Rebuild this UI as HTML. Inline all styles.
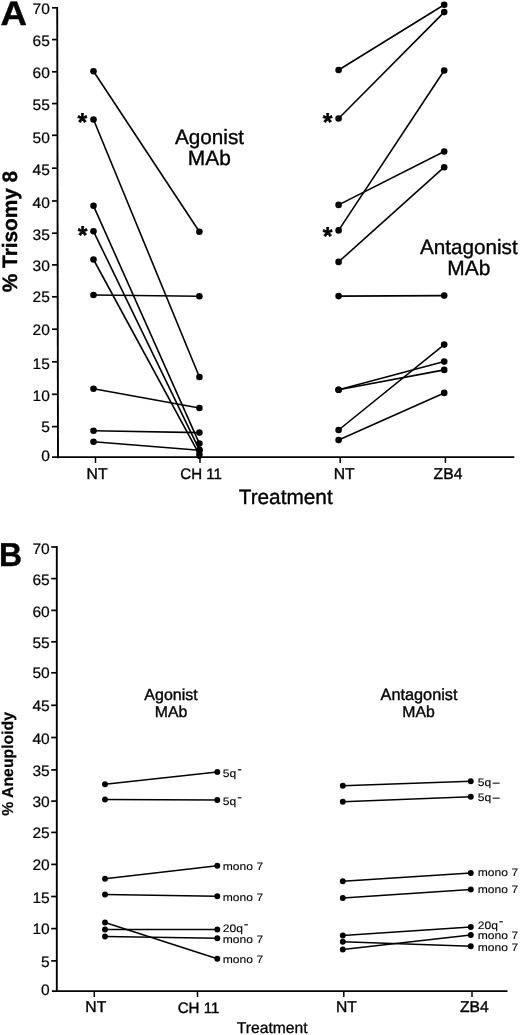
<!DOCTYPE html>
<html lang="en"><head><meta charset="utf-8"><title>Figure</title>
<style>html,body{margin:0;padding:0;background:#fff}svg{display:block}text{font-family:"Liberation Sans", Arial, Helvetica, sans-serif;fill:#000;text-rendering:geometricPrecision;stroke:#000;stroke-width:0.38px}</style>
</head><body>
<svg style="will-change:transform" width="520" height="1035" viewBox="0 0 520 1035">
<rect width="520" height="1035" fill="#fff"/>
<g opacity="0.999">
<line x1="57.20" y1="6.95" x2="58.00" y2="458.15" stroke="#000" stroke-width="1.90" stroke-linecap="butt"/>
<line x1="52.00" y1="457.20" x2="514.30" y2="457.20" stroke="#000" stroke-width="1.70" stroke-linecap="butt"/>
<line x1="52.00" y1="7.80" x2="57.60" y2="7.80" stroke="#000" stroke-width="1.70" stroke-linecap="butt"/>
<text transform="translate(49.90,14.00) scale(1.030,1.000)" font-size="15.10" text-anchor="end" font-weight="normal" style="stroke-width:0.22px">70</text>
<line x1="52.00" y1="39.60" x2="57.60" y2="39.60" stroke="#000" stroke-width="1.70" stroke-linecap="butt"/>
<text transform="translate(49.90,45.50) scale(1.030,1.000)" font-size="15.10" text-anchor="end" font-weight="normal" style="stroke-width:0.22px">65</text>
<line x1="52.00" y1="71.80" x2="57.60" y2="71.80" stroke="#000" stroke-width="1.70" stroke-linecap="butt"/>
<text transform="translate(49.90,78.00) scale(1.030,1.000)" font-size="15.10" text-anchor="end" font-weight="normal" style="stroke-width:0.22px">60</text>
<line x1="52.00" y1="103.60" x2="57.60" y2="103.60" stroke="#000" stroke-width="1.70" stroke-linecap="butt"/>
<text transform="translate(49.90,109.70) scale(1.030,1.000)" font-size="15.10" text-anchor="end" font-weight="normal" style="stroke-width:0.22px">55</text>
<line x1="52.00" y1="135.30" x2="57.60" y2="135.30" stroke="#000" stroke-width="1.70" stroke-linecap="butt"/>
<text transform="translate(49.90,142.90) scale(1.030,1.000)" font-size="15.10" text-anchor="end" font-weight="normal" style="stroke-width:0.22px">50</text>
<line x1="52.00" y1="168.20" x2="57.60" y2="168.20" stroke="#000" stroke-width="1.70" stroke-linecap="butt"/>
<text transform="translate(49.90,174.90) scale(1.030,1.000)" font-size="15.10" text-anchor="end" font-weight="normal" style="stroke-width:0.22px">45</text>
<line x1="52.00" y1="201.00" x2="57.60" y2="201.00" stroke="#000" stroke-width="1.70" stroke-linecap="butt"/>
<text transform="translate(49.90,208.00) scale(1.030,1.000)" font-size="15.10" text-anchor="end" font-weight="normal" style="stroke-width:0.22px">40</text>
<line x1="52.00" y1="233.20" x2="57.60" y2="233.20" stroke="#000" stroke-width="1.70" stroke-linecap="butt"/>
<text transform="translate(49.90,239.60) scale(1.030,1.000)" font-size="15.10" text-anchor="end" font-weight="normal" style="stroke-width:0.22px">35</text>
<line x1="52.00" y1="264.90" x2="57.60" y2="264.90" stroke="#000" stroke-width="1.70" stroke-linecap="butt"/>
<text transform="translate(49.90,271.10) scale(1.030,1.000)" font-size="15.10" text-anchor="end" font-weight="normal" style="stroke-width:0.22px">30</text>
<line x1="52.00" y1="296.80" x2="57.60" y2="296.80" stroke="#000" stroke-width="1.70" stroke-linecap="butt"/>
<text transform="translate(49.90,302.40) scale(1.030,1.000)" font-size="15.10" text-anchor="end" font-weight="normal" style="stroke-width:0.22px">25</text>
<line x1="52.00" y1="329.20" x2="57.60" y2="329.20" stroke="#000" stroke-width="1.70" stroke-linecap="butt"/>
<text transform="translate(49.90,335.40) scale(1.030,1.000)" font-size="15.10" text-anchor="end" font-weight="normal" style="stroke-width:0.22px">20</text>
<line x1="52.00" y1="361.80" x2="57.60" y2="361.80" stroke="#000" stroke-width="1.70" stroke-linecap="butt"/>
<text transform="translate(49.90,369.10) scale(1.030,1.000)" font-size="15.10" text-anchor="end" font-weight="normal" style="stroke-width:0.22px">15</text>
<line x1="52.00" y1="394.30" x2="57.60" y2="394.30" stroke="#000" stroke-width="1.70" stroke-linecap="butt"/>
<text transform="translate(49.90,400.50) scale(1.030,1.000)" font-size="15.10" text-anchor="end" font-weight="normal" style="stroke-width:0.22px">10</text>
<line x1="52.00" y1="426.60" x2="57.60" y2="426.60" stroke="#000" stroke-width="1.70" stroke-linecap="butt"/>
<text transform="translate(49.90,432.30) scale(1.030,1.000)" font-size="15.10" text-anchor="end" font-weight="normal" style="stroke-width:0.22px">5</text>
<text transform="translate(49.90,461.40) scale(1.030,1.000)" font-size="15.10" text-anchor="end" font-weight="normal" style="stroke-width:0.22px">0</text>
<line x1="95.50" y1="457.20" x2="95.50" y2="462.90" stroke="#000" stroke-width="1.50" stroke-linecap="butt"/>
<line x1="200.00" y1="457.20" x2="200.00" y2="462.90" stroke="#000" stroke-width="1.50" stroke-linecap="butt"/>
<line x1="340.20" y1="457.20" x2="340.20" y2="462.90" stroke="#000" stroke-width="1.50" stroke-linecap="butt"/>
<line x1="445.40" y1="457.20" x2="445.40" y2="462.90" stroke="#000" stroke-width="1.50" stroke-linecap="butt"/>
<text transform="translate(97.00,478.50) scale(1.000,1.000)" font-size="15.70" text-anchor="middle" font-weight="normal" >NT</text>
<text transform="translate(201.10,478.60) scale(1.000,1.000)" font-size="15.10" text-anchor="middle" font-weight="normal" >CH 11</text>
<text transform="translate(344.10,478.50) scale(1.000,1.000)" font-size="15.70" text-anchor="middle" font-weight="normal" >NT</text>
<text transform="translate(448.00,478.60) scale(1.000,1.000)" font-size="15.70" text-anchor="middle" font-weight="normal" >ZB4</text>
<text transform="translate(285.70,503.70) scale(1.000,1.000)" font-size="20.80" text-anchor="middle" font-weight="normal" >Treatment</text>
<text transform="translate(209.50,143.80) scale(1.000,1.000)" font-size="20.70" text-anchor="middle" font-weight="normal" >Agonist</text>
<text transform="translate(209.30,165.00) scale(1.000,1.000)" font-size="20.90" text-anchor="middle" font-weight="normal" >MAb</text>
<text transform="translate(468.80,254.30) scale(1.000,1.000)" font-size="20.70" text-anchor="middle" font-weight="normal" >Antagonist</text>
<text transform="translate(468.80,274.50) scale(1.000,1.000)" font-size="20.90" text-anchor="middle" font-weight="normal" >MAb</text>
<text transform="translate(0.60,25.30) scale(1.080,1.000)" font-size="34.00" text-anchor="start" font-weight="bold" >A</text>
<text transform="translate(17.0,292.2) rotate(-90) scale(1,1.0)" font-size="20.8" font-weight="bold">% Trisomy 8</text>
<text transform="translate(82.40,130.90) scale(1.000,1.040)" font-size="25.00" text-anchor="middle" font-weight="bold" >*</text>
<text transform="translate(82.60,244.10) scale(1.000,1.040)" font-size="25.00" text-anchor="middle" font-weight="bold" >*</text>
<text transform="translate(327.50,131.00) scale(1.000,1.040)" font-size="25.00" text-anchor="middle" font-weight="bold" >*</text>
<text transform="translate(327.50,244.80) scale(1.000,1.040)" font-size="25.00" text-anchor="middle" font-weight="bold" >*</text>
<line x1="93.50" y1="71.30" x2="199.40" y2="231.80" stroke="#000" stroke-width="1.60" stroke-linecap="butt"/>
<circle cx="93.50" cy="71.30" r="3.30" fill="#000"/>
<circle cx="199.40" cy="231.80" r="3.30" fill="#000"/>
<line x1="93.50" y1="119.50" x2="199.40" y2="377.00" stroke="#000" stroke-width="1.60" stroke-linecap="butt"/>
<circle cx="93.50" cy="119.50" r="3.30" fill="#000"/>
<circle cx="199.40" cy="377.00" r="3.30" fill="#000"/>
<line x1="93.50" y1="205.80" x2="199.40" y2="443.60" stroke="#000" stroke-width="1.60" stroke-linecap="butt"/>
<circle cx="93.50" cy="205.80" r="3.30" fill="#000"/>
<circle cx="199.40" cy="443.60" r="3.30" fill="#000"/>
<line x1="93.50" y1="231.30" x2="199.40" y2="449.90" stroke="#000" stroke-width="1.60" stroke-linecap="butt"/>
<circle cx="93.50" cy="231.30" r="3.30" fill="#000"/>
<circle cx="199.40" cy="449.90" r="3.30" fill="#000"/>
<line x1="93.50" y1="259.50" x2="199.40" y2="454.60" stroke="#000" stroke-width="1.60" stroke-linecap="butt"/>
<circle cx="93.50" cy="259.50" r="3.30" fill="#000"/>
<circle cx="199.40" cy="454.60" r="3.30" fill="#000"/>
<line x1="93.50" y1="295.00" x2="199.40" y2="296.20" stroke="#000" stroke-width="1.60" stroke-linecap="butt"/>
<circle cx="93.50" cy="295.00" r="3.30" fill="#000"/>
<circle cx="199.40" cy="296.20" r="3.30" fill="#000"/>
<line x1="93.50" y1="388.80" x2="199.40" y2="408.00" stroke="#000" stroke-width="1.60" stroke-linecap="butt"/>
<circle cx="93.50" cy="388.80" r="3.30" fill="#000"/>
<circle cx="199.40" cy="408.00" r="3.30" fill="#000"/>
<line x1="93.50" y1="430.80" x2="199.40" y2="432.60" stroke="#000" stroke-width="1.60" stroke-linecap="butt"/>
<circle cx="93.50" cy="430.80" r="3.30" fill="#000"/>
<circle cx="199.40" cy="432.60" r="3.30" fill="#000"/>
<line x1="93.50" y1="441.70" x2="199.40" y2="450.20" stroke="#000" stroke-width="1.60" stroke-linecap="butt"/>
<circle cx="93.50" cy="441.70" r="3.30" fill="#000"/>
<circle cx="199.40" cy="450.20" r="3.30" fill="#000"/>
<circle cx="199.40" cy="457.00" r="2.20" fill="#000"/>
<line x1="338.60" y1="70.00" x2="444.20" y2="4.80" stroke="#000" stroke-width="1.60" stroke-linecap="butt"/>
<circle cx="338.60" cy="70.00" r="3.30" fill="#000"/>
<circle cx="444.20" cy="4.80" r="3.30" fill="#000"/>
<line x1="338.60" y1="118.50" x2="444.20" y2="12.10" stroke="#000" stroke-width="1.60" stroke-linecap="butt"/>
<circle cx="338.60" cy="118.50" r="3.30" fill="#000"/>
<circle cx="444.20" cy="12.10" r="3.30" fill="#000"/>
<line x1="338.60" y1="204.90" x2="444.20" y2="151.50" stroke="#000" stroke-width="1.60" stroke-linecap="butt"/>
<circle cx="338.60" cy="204.90" r="3.30" fill="#000"/>
<circle cx="444.20" cy="151.50" r="3.30" fill="#000"/>
<line x1="338.60" y1="230.40" x2="444.20" y2="70.50" stroke="#000" stroke-width="1.60" stroke-linecap="butt"/>
<circle cx="338.60" cy="230.40" r="3.30" fill="#000"/>
<circle cx="444.20" cy="70.50" r="3.30" fill="#000"/>
<line x1="338.60" y1="261.90" x2="444.20" y2="167.20" stroke="#000" stroke-width="1.60" stroke-linecap="butt"/>
<circle cx="338.60" cy="261.90" r="3.30" fill="#000"/>
<circle cx="444.20" cy="167.20" r="3.30" fill="#000"/>
<line x1="338.60" y1="296.10" x2="444.20" y2="295.60" stroke="#000" stroke-width="1.60" stroke-linecap="butt"/>
<circle cx="338.60" cy="296.10" r="3.30" fill="#000"/>
<circle cx="444.20" cy="295.60" r="3.30" fill="#000"/>
<line x1="338.60" y1="389.70" x2="444.20" y2="361.60" stroke="#000" stroke-width="1.60" stroke-linecap="butt"/>
<circle cx="338.60" cy="389.70" r="3.30" fill="#000"/>
<circle cx="444.20" cy="361.60" r="3.30" fill="#000"/>
<line x1="338.60" y1="389.70" x2="444.20" y2="369.90" stroke="#000" stroke-width="1.60" stroke-linecap="butt"/>
<circle cx="338.60" cy="389.70" r="3.30" fill="#000"/>
<circle cx="444.20" cy="369.90" r="3.30" fill="#000"/>
<line x1="338.60" y1="430.00" x2="444.20" y2="344.60" stroke="#000" stroke-width="1.60" stroke-linecap="butt"/>
<circle cx="338.60" cy="430.00" r="3.30" fill="#000"/>
<circle cx="444.20" cy="344.60" r="3.30" fill="#000"/>
<line x1="338.60" y1="440.00" x2="444.20" y2="392.90" stroke="#000" stroke-width="1.60" stroke-linecap="butt"/>
<circle cx="338.60" cy="440.00" r="3.30" fill="#000"/>
<circle cx="444.20" cy="392.90" r="3.30" fill="#000"/>
<line x1="56.80" y1="546.05" x2="56.80" y2="992.05" stroke="#000" stroke-width="1.90" stroke-linecap="butt"/>
<line x1="51.90" y1="991.10" x2="507.50" y2="991.10" stroke="#000" stroke-width="1.65" stroke-linecap="butt"/>
<line x1="51.20" y1="547.00" x2="56.80" y2="547.00" stroke="#000" stroke-width="1.70" stroke-linecap="butt"/>
<text transform="translate(49.70,553.60) scale(1.030,1.000)" font-size="15.10" text-anchor="end" font-weight="normal" style="stroke-width:0.22px">70</text>
<line x1="51.20" y1="578.60" x2="56.80" y2="578.60" stroke="#000" stroke-width="1.70" stroke-linecap="butt"/>
<text transform="translate(49.70,584.50) scale(1.030,1.000)" font-size="15.10" text-anchor="end" font-weight="normal" style="stroke-width:0.22px">65</text>
<line x1="51.20" y1="610.40" x2="56.80" y2="610.40" stroke="#000" stroke-width="1.70" stroke-linecap="butt"/>
<text transform="translate(49.70,617.00) scale(1.030,1.000)" font-size="15.10" text-anchor="end" font-weight="normal" style="stroke-width:0.22px">60</text>
<line x1="51.20" y1="641.80" x2="56.80" y2="641.80" stroke="#000" stroke-width="1.70" stroke-linecap="butt"/>
<text transform="translate(49.70,647.80) scale(1.030,1.000)" font-size="15.10" text-anchor="end" font-weight="normal" style="stroke-width:0.22px">55</text>
<line x1="51.20" y1="672.80" x2="56.80" y2="672.80" stroke="#000" stroke-width="1.70" stroke-linecap="butt"/>
<text transform="translate(49.70,678.20) scale(1.030,1.000)" font-size="15.10" text-anchor="end" font-weight="normal" style="stroke-width:0.22px">50</text>
<line x1="51.20" y1="705.30" x2="56.80" y2="705.30" stroke="#000" stroke-width="1.70" stroke-linecap="butt"/>
<text transform="translate(49.70,711.40) scale(1.030,1.000)" font-size="15.10" text-anchor="end" font-weight="normal" style="stroke-width:0.22px">45</text>
<line x1="51.20" y1="737.50" x2="56.80" y2="737.50" stroke="#000" stroke-width="1.70" stroke-linecap="butt"/>
<text transform="translate(49.70,743.50) scale(1.030,1.000)" font-size="15.10" text-anchor="end" font-weight="normal" style="stroke-width:0.22px">40</text>
<line x1="51.20" y1="769.90" x2="56.80" y2="769.90" stroke="#000" stroke-width="1.70" stroke-linecap="butt"/>
<text transform="translate(49.70,775.90) scale(1.030,1.000)" font-size="15.10" text-anchor="end" font-weight="normal" style="stroke-width:0.22px">35</text>
<line x1="51.20" y1="801.10" x2="56.80" y2="801.10" stroke="#000" stroke-width="1.70" stroke-linecap="butt"/>
<text transform="translate(49.70,807.10) scale(1.030,1.000)" font-size="15.10" text-anchor="end" font-weight="normal" style="stroke-width:0.22px">30</text>
<line x1="51.20" y1="832.40" x2="56.80" y2="832.40" stroke="#000" stroke-width="1.70" stroke-linecap="butt"/>
<text transform="translate(49.70,838.40) scale(1.030,1.000)" font-size="15.10" text-anchor="end" font-weight="normal" style="stroke-width:0.22px">25</text>
<line x1="51.20" y1="864.40" x2="56.80" y2="864.40" stroke="#000" stroke-width="1.70" stroke-linecap="butt"/>
<text transform="translate(49.70,870.40) scale(1.030,1.000)" font-size="15.10" text-anchor="end" font-weight="normal" style="stroke-width:0.22px">20</text>
<line x1="51.20" y1="896.50" x2="56.80" y2="896.50" stroke="#000" stroke-width="1.70" stroke-linecap="butt"/>
<text transform="translate(49.70,902.50) scale(1.030,1.000)" font-size="15.10" text-anchor="end" font-weight="normal" style="stroke-width:0.22px">15</text>
<line x1="51.20" y1="928.60" x2="56.80" y2="928.60" stroke="#000" stroke-width="1.70" stroke-linecap="butt"/>
<text transform="translate(49.70,934.25) scale(1.030,1.000)" font-size="15.10" text-anchor="end" font-weight="normal" style="stroke-width:0.22px">10</text>
<line x1="51.20" y1="960.90" x2="56.80" y2="960.90" stroke="#000" stroke-width="1.70" stroke-linecap="butt"/>
<text transform="translate(49.70,967.00) scale(1.030,1.000)" font-size="15.10" text-anchor="end" font-weight="normal" style="stroke-width:0.22px">5</text>
<text transform="translate(49.70,995.25) scale(1.030,1.000)" font-size="15.10" text-anchor="end" font-weight="normal" style="stroke-width:0.22px">0</text>
<line x1="94.30" y1="991.10" x2="94.30" y2="997.00" stroke="#000" stroke-width="1.50" stroke-linecap="butt"/>
<line x1="197.50" y1="991.10" x2="197.50" y2="997.00" stroke="#000" stroke-width="1.50" stroke-linecap="butt"/>
<line x1="343.80" y1="991.10" x2="343.80" y2="997.00" stroke="#000" stroke-width="1.50" stroke-linecap="butt"/>
<line x1="472.00" y1="991.10" x2="472.00" y2="997.00" stroke="#000" stroke-width="1.50" stroke-linecap="butt"/>
<text transform="translate(95.80,1011.90) scale(1.000,1.000)" font-size="15.70" text-anchor="middle" font-weight="normal" >NT</text>
<text transform="translate(198.50,1012.60) scale(1.000,1.000)" font-size="15.10" text-anchor="middle" font-weight="normal" >CH 11</text>
<text transform="translate(346.40,1012.00) scale(1.000,1.000)" font-size="15.70" text-anchor="middle" font-weight="normal" >NT</text>
<text transform="translate(474.40,1012.00) scale(1.000,1.000)" font-size="15.70" text-anchor="middle" font-weight="normal" >ZB4</text>
<text transform="translate(272.20,1033.30) scale(1.000,1.000)" font-size="15.70" text-anchor="middle" font-weight="normal" style="stroke-width:0.3px">Treatment</text>
<text transform="translate(171.00,699.50) scale(1.000,1.000)" font-size="16.00" text-anchor="middle" font-weight="normal" >Agonist</text>
<text transform="translate(171.00,716.80) scale(1.000,1.000)" font-size="15.80" text-anchor="middle" font-weight="normal" >MAb</text>
<text transform="translate(419.00,699.50) scale(1.000,1.000)" font-size="16.30" text-anchor="middle" font-weight="normal" >Antagonist</text>
<text transform="translate(418.50,716.80) scale(1.000,1.000)" font-size="15.80" text-anchor="middle" font-weight="normal" >MAb</text>
<text transform="translate(-0.90,566.00) scale(0.970,1.000)" font-size="33.00" text-anchor="start" font-weight="bold" >B</text>
<text transform="translate(12.8,815.8) rotate(-90)" font-size="15.8" font-weight="bold" style="stroke-width:0.2px">% Aneuploidy</text>
<line x1="105.00" y1="784.30" x2="217.30" y2="772.00" stroke="#000" stroke-width="1.50" stroke-linecap="butt"/>
<circle cx="105.00" cy="784.30" r="2.95" fill="#000"/>
<circle cx="217.30" cy="772.00" r="2.95" fill="#000"/>
<text transform="translate(222.80,776.60) scale(1.110,1.000)" font-size="10.90" text-anchor="start" font-weight="normal" style="stroke-width:0.12px">5q<tspan dx="0.8" dy="-3.9" font-size="12.5">-</tspan></text>
<line x1="105.00" y1="799.50" x2="217.30" y2="800.00" stroke="#000" stroke-width="1.50" stroke-linecap="butt"/>
<circle cx="105.00" cy="799.50" r="2.95" fill="#000"/>
<circle cx="217.30" cy="800.00" r="2.95" fill="#000"/>
<text transform="translate(222.80,804.60) scale(1.110,1.000)" font-size="10.90" text-anchor="start" font-weight="normal" style="stroke-width:0.12px">5q<tspan dx="0.8" dy="-3.9" font-size="12.5">-</tspan></text>
<line x1="105.00" y1="878.80" x2="217.30" y2="865.80" stroke="#000" stroke-width="1.50" stroke-linecap="butt"/>
<circle cx="105.00" cy="878.80" r="2.95" fill="#000"/>
<circle cx="217.30" cy="865.80" r="2.95" fill="#000"/>
<text transform="translate(222.80,869.80) scale(1.110,1.000)" font-size="10.90" text-anchor="start" font-weight="normal" style="stroke-width:0.12px">mono 7</text>
<line x1="105.00" y1="894.50" x2="217.30" y2="896.30" stroke="#000" stroke-width="1.50" stroke-linecap="butt"/>
<circle cx="105.00" cy="894.50" r="2.95" fill="#000"/>
<circle cx="217.30" cy="896.30" r="2.95" fill="#000"/>
<text transform="translate(222.80,900.80) scale(1.110,1.000)" font-size="10.90" text-anchor="start" font-weight="normal" style="stroke-width:0.12px">mono 7</text>
<line x1="105.00" y1="929.50" x2="217.30" y2="929.50" stroke="#000" stroke-width="1.50" stroke-linecap="butt"/>
<circle cx="105.00" cy="929.50" r="2.95" fill="#000"/>
<circle cx="217.30" cy="929.50" r="2.95" fill="#000"/>
<text transform="translate(222.80,932.20) scale(1.110,1.000)" font-size="10.90" text-anchor="start" font-weight="normal" style="stroke-width:0.12px">20q<tspan dx="0.8" dy="-3.9" font-size="12.5">-</tspan></text>
<line x1="105.00" y1="936.50" x2="217.30" y2="938.30" stroke="#000" stroke-width="1.50" stroke-linecap="butt"/>
<circle cx="105.00" cy="936.50" r="2.95" fill="#000"/>
<circle cx="217.30" cy="938.30" r="2.95" fill="#000"/>
<text transform="translate(222.80,943.20) scale(1.110,1.000)" font-size="10.90" text-anchor="start" font-weight="normal" style="stroke-width:0.12px">mono 7</text>
<line x1="105.00" y1="922.50" x2="217.30" y2="958.80" stroke="#000" stroke-width="1.50" stroke-linecap="butt"/>
<circle cx="105.00" cy="922.50" r="2.95" fill="#000"/>
<circle cx="217.30" cy="958.80" r="2.95" fill="#000"/>
<text transform="translate(222.80,962.80) scale(1.110,1.000)" font-size="10.90" text-anchor="start" font-weight="normal" style="stroke-width:0.12px">mono 7</text>
<line x1="342.80" y1="785.80" x2="470.80" y2="781.30" stroke="#000" stroke-width="1.50" stroke-linecap="butt"/>
<circle cx="342.80" cy="785.80" r="2.95" fill="#000"/>
<circle cx="470.80" cy="781.30" r="2.95" fill="#000"/>
<text transform="translate(477.80,785.80) scale(1.110,1.000)" font-size="10.90" text-anchor="start" font-weight="normal" style="stroke-width:0.12px">5q<tspan dx="1.3" font-size="11">–</tspan></text>
<line x1="342.80" y1="801.80" x2="470.80" y2="796.80" stroke="#000" stroke-width="1.50" stroke-linecap="butt"/>
<circle cx="342.80" cy="801.80" r="2.95" fill="#000"/>
<circle cx="470.80" cy="796.80" r="2.95" fill="#000"/>
<text transform="translate(477.80,801.30) scale(1.110,1.000)" font-size="10.90" text-anchor="start" font-weight="normal" style="stroke-width:0.12px">5q<tspan dx="1.3" font-size="11">–</tspan></text>
<line x1="342.80" y1="881.30" x2="470.80" y2="873.00" stroke="#000" stroke-width="1.50" stroke-linecap="butt"/>
<circle cx="342.80" cy="881.30" r="2.95" fill="#000"/>
<circle cx="470.80" cy="873.00" r="2.95" fill="#000"/>
<text transform="translate(477.80,876.30) scale(1.110,1.000)" font-size="10.90" text-anchor="start" font-weight="normal" style="stroke-width:0.12px">mono 7</text>
<line x1="342.80" y1="898.00" x2="470.80" y2="889.50" stroke="#000" stroke-width="1.50" stroke-linecap="butt"/>
<circle cx="342.80" cy="898.00" r="2.95" fill="#000"/>
<circle cx="470.80" cy="889.50" r="2.95" fill="#000"/>
<text transform="translate(477.80,893.00) scale(1.110,1.000)" font-size="10.90" text-anchor="start" font-weight="normal" style="stroke-width:0.12px">mono 7</text>
<line x1="342.80" y1="935.50" x2="470.80" y2="927.00" stroke="#000" stroke-width="1.50" stroke-linecap="butt"/>
<circle cx="342.80" cy="935.50" r="2.95" fill="#000"/>
<circle cx="470.80" cy="927.00" r="2.95" fill="#000"/>
<text transform="translate(477.80,929.30) scale(1.110,1.000)" font-size="10.90" text-anchor="start" font-weight="normal" style="stroke-width:0.12px">20q<tspan dx="0.8" dy="-3.9" font-size="12.5">-</tspan></text>
<line x1="342.80" y1="949.50" x2="470.80" y2="935.00" stroke="#000" stroke-width="1.50" stroke-linecap="butt"/>
<circle cx="342.80" cy="949.50" r="2.95" fill="#000"/>
<circle cx="470.80" cy="935.00" r="2.95" fill="#000"/>
<text transform="translate(477.80,939.30) scale(1.110,1.000)" font-size="10.90" text-anchor="start" font-weight="normal" style="stroke-width:0.12px">mono 7</text>
<line x1="342.80" y1="941.80" x2="470.80" y2="946.30" stroke="#000" stroke-width="1.50" stroke-linecap="butt"/>
<circle cx="342.80" cy="941.80" r="2.95" fill="#000"/>
<circle cx="470.80" cy="946.30" r="2.95" fill="#000"/>
<text transform="translate(477.80,951.30) scale(1.110,1.000)" font-size="10.90" text-anchor="start" font-weight="normal" style="stroke-width:0.12px">mono 7</text>
</g></svg>
</body></html>
